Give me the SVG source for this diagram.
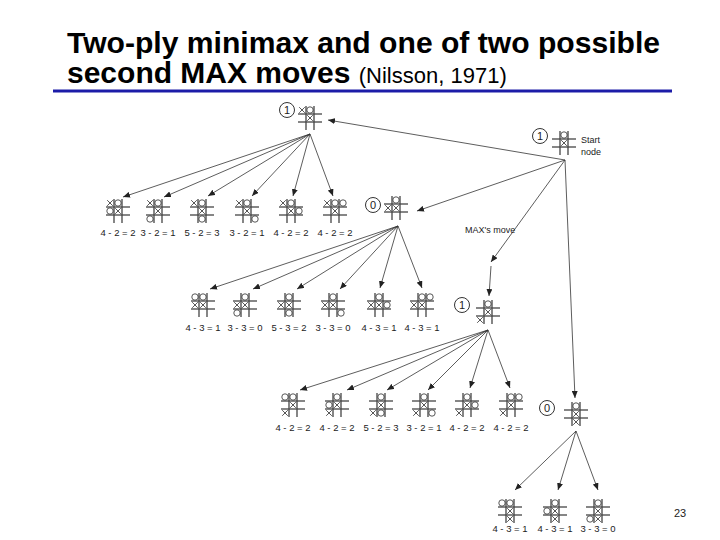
<svg xmlns="http://www.w3.org/2000/svg" width="720" height="540" viewBox="0 0 720 540">
<style>
.t1{font-family:"Liberation Sans",Arial,sans-serif;font-weight:bold;font-size:30px;fill:#000}
.t2{font-family:"Liberation Sans",Arial,sans-serif;font-weight:normal;font-size:22px;fill:#000}
.lbl{font-family:"Liberation Sans",Arial,sans-serif;font-size:9.5px;fill:#222;text-anchor:middle}
.sm{font-family:"Liberation Sans",Arial,sans-serif;font-size:9px;fill:#222}
.val{font-family:"Liberation Sans",Arial,sans-serif;font-size:11px;fill:#222;text-anchor:middle}
.ring{fill:none;stroke:#333;stroke-width:1}
.grid line{stroke:#444;stroke-width:1.3}
.mark{stroke:#444;stroke-width:0.9;fill:none}
.conn line{stroke:#333;stroke-width:0.8;marker-end:url(#ah)}
</style>
<defs>
<marker id="ah" markerUnits="userSpaceOnUse" markerWidth="8" markerHeight="6" refX="7" refY="3" orient="auto">
<path d="M0,0 L7,3 L0,6 z" fill="#222"/>
</marker>
<g id="grid" class="grid">
<line x1="-4" y1="-12" x2="-4" y2="12"/>
<line x1="4" y1="-12" x2="4" y2="12"/>
<line x1="-12" y1="-4" x2="12" y2="-4"/>
<line x1="-12" y1="4" x2="12" y2="4"/>
</g>
<path id="X" class="mark" d="M-2.8,-2.8 L2.8,2.8 M2.8,-2.8 L-2.8,2.8"/>
<circle id="O" class="mark" r="3.2"/>
</defs>

<g id="title">
<text class="t1" x="67" y="53" textLength="593" lengthAdjust="spacingAndGlyphs">Two-ply minimax and one of two possible</text>
<text class="t1" x="67" y="83">second MAX moves <tspan class="t2">(Nilsson, 1971)</tspan></text>
<line x1="53" y1="91" x2="672" y2="91" stroke="#1c1ca8" stroke-width="3"/>
</g>

<g id="connectors" class="conn">
<line x1="565" y1="160" x2="328" y2="120"/>
<line x1="565" y1="160" x2="417" y2="211"/>
<line x1="565" y1="160" x2="491" y2="262"/>
<line x1="491" y1="266" x2="489" y2="296"/>
<line x1="565" y1="160" x2="575" y2="398"/>
<line x1="310" y1="134" x2="123" y2="197"/>
<line x1="310" y1="134" x2="164" y2="197"/>
<line x1="310" y1="134" x2="208" y2="196"/>
<line x1="310" y1="134" x2="252" y2="196"/>
<line x1="310" y1="134" x2="293" y2="196"/>
<line x1="310" y1="134" x2="333" y2="196"/>
<line x1="398" y1="226" x2="210" y2="289"/>
<line x1="398" y1="226" x2="253" y2="289"/>
<line x1="398" y1="226" x2="297" y2="289"/>
<line x1="398" y1="226" x2="340" y2="289"/>
<line x1="398" y1="226" x2="380" y2="288"/>
<line x1="398" y1="226" x2="422" y2="288"/>
<line x1="488" y1="330" x2="300" y2="390"/>
<line x1="488" y1="330" x2="347" y2="390"/>
<line x1="488" y1="330" x2="387" y2="390"/>
<line x1="488" y1="330" x2="428" y2="390"/>
<line x1="488" y1="330" x2="470" y2="388"/>
<line x1="488" y1="330" x2="510" y2="388"/>
<line x1="576" y1="431" x2="515" y2="490"/>
<line x1="576" y1="431" x2="558" y2="490"/>
<line x1="576" y1="431" x2="598" y2="490"/>
</g>

<g id="start">
<circle class="ring" cx="540" cy="136" r="7.5"/><text class="val" x="540" y="140">1</text>
<g transform="translate(564,143)"><use href="#grid"/><use href="#O" y="-8"/><use href="#X"/></g>
<text class="sm" x="581" y="143">Start</text>
<text class="sm" x="581" y="155">node</text>
</g>
<text id="maxmove" class="sm" x="465" y="233">MAX's move</text>

<g id="m1">
<circle class="ring" cx="287" cy="110" r="7.5"/><text class="val" x="287" y="114">1</text>
<g transform="translate(310,118)"><use href="#grid"/><use href="#X" x="-8" y="-8"/><use href="#O" y="-8"/><use href="#X"/></g>
</g>
<g id="m2">
<circle class="ring" cx="373" cy="205" r="7.5"/><text class="val" x="373" y="209">0</text>
<g transform="translate(396,208)"><use href="#grid"/><use href="#O" y="-8"/><use href="#X" x="-8"/><use href="#X"/></g>
</g>
<g id="m3">
<circle class="ring" cx="462" cy="305" r="7.5"/><text class="val" x="462" y="309">1</text>
<g transform="translate(488,312)"><use href="#grid"/><use href="#O" y="-8"/><use href="#X"/><use href="#X" x="-8" y="8"/></g>
</g>
<g id="m4">
<circle class="ring" cx="547" cy="408" r="7.5"/><text class="val" x="547" y="412">0</text>
<g transform="translate(576,414)"><use href="#grid"/><use href="#O" y="-8"/><use href="#X"/><use href="#X" y="8"/></g>
</g>

<!-- row 1 -->
<g id="r1a" transform="translate(118,211)"><use href="#grid"/><use href="#X" x="-8" y="-8"/><use href="#O" y="-8"/><use href="#X"/><use href="#O" x="-8"/><text class="lbl" y="25">4 - 2 = 2</text></g>
<g id="r1b" transform="translate(158,211)"><use href="#grid"/><use href="#X" x="-8" y="-8"/><use href="#O" y="-8"/><use href="#X"/><use href="#O" x="-8" y="8"/><text class="lbl" y="25">3 - 2 = 1</text></g>
<g id="r1c" transform="translate(202,211)"><use href="#grid"/><use href="#X" x="-8" y="-8"/><use href="#O" y="-8"/><use href="#X"/><use href="#O" y="8"/><text class="lbl" y="25">5 - 2 = 3</text></g>
<g id="r1d" transform="translate(247,211)"><use href="#grid"/><use href="#X" x="-8" y="-8"/><use href="#O" y="-8"/><use href="#X"/><use href="#O" x="8" y="8"/><text class="lbl" y="25">3 - 2 = 1</text></g>
<g id="r1e" transform="translate(291,211)"><use href="#grid"/><use href="#X" x="-8" y="-8"/><use href="#O" y="-8"/><use href="#X"/><use href="#O" x="8"/><text class="lbl" y="25">4 - 2 = 2</text></g>
<g id="r1f" transform="translate(335,211)"><use href="#grid"/><use href="#X" x="-8" y="-8"/><use href="#O" y="-8"/><use href="#X"/><use href="#O" x="8" y="-8"/><text class="lbl" y="25">4 - 2 = 2</text></g>

<!-- row 2 -->
<g id="r2a" transform="translate(203,305)"><use href="#grid"/><use href="#O" y="-8"/><use href="#X" x="-8"/><use href="#X"/><use href="#O" x="-8" y="-8"/><text class="lbl" y="26">4 - 3 = 1</text></g>
<g id="r2b" transform="translate(245,305)"><use href="#grid"/><use href="#O" y="-8"/><use href="#X" x="-8"/><use href="#X"/><use href="#O" x="-8" y="8"/><text class="lbl" y="26">3 - 3 = 0</text></g>
<g id="r2c" transform="translate(289,305)"><use href="#grid"/><use href="#O" y="-8"/><use href="#X" x="-8"/><use href="#X"/><use href="#O" y="8"/><text class="lbl" y="26">5 - 3 = 2</text></g>
<g id="r2d" transform="translate(333,305)"><use href="#grid"/><use href="#O" y="-8"/><use href="#X" x="-8"/><use href="#X"/><use href="#O" x="8" y="8"/><text class="lbl" y="26">3 - 3 = 0</text></g>
<g id="r2e" transform="translate(379,305)"><use href="#grid"/><use href="#O" y="-8"/><use href="#X" x="-8"/><use href="#X"/><use href="#O" x="8"/><text class="lbl" y="26">4 - 3 = 1</text></g>
<g id="r2f" transform="translate(422,305)"><use href="#grid"/><use href="#O" y="-8"/><use href="#X" x="-8"/><use href="#X"/><use href="#O" x="8" y="-8"/><text class="lbl" y="26">4 - 3 = 1</text></g>

<!-- row 3 -->
<g id="r3a" transform="translate(293,405)"><use href="#grid"/><use href="#O" y="-8"/><use href="#X"/><use href="#X" x="-8" y="8"/><use href="#O" x="-8" y="-8"/><text class="lbl" y="26">4 - 2 = 2</text></g>
<g id="r3b" transform="translate(337,405)"><use href="#grid"/><use href="#O" y="-8"/><use href="#X"/><use href="#X" x="-8" y="8"/><use href="#O" x="-8"/><text class="lbl" y="26">4 - 2 = 2</text></g>
<g id="r3c" transform="translate(381,405)"><use href="#grid"/><use href="#O" y="-8"/><use href="#X"/><use href="#X" x="-8" y="8"/><use href="#O" y="8"/><text class="lbl" y="26">5 - 2 = 3</text></g>
<g id="r3d" transform="translate(424,405)"><use href="#grid"/><use href="#O" y="-8"/><use href="#X"/><use href="#X" x="-8" y="8"/><use href="#O" x="8" y="8"/><text class="lbl" y="26">3 - 2 = 1</text></g>
<g id="r3e" transform="translate(467,405)"><use href="#grid"/><use href="#O" y="-8"/><use href="#X"/><use href="#X" x="-8" y="8"/><use href="#O" x="8"/><text class="lbl" y="26">4 - 2 = 2</text></g>
<g id="r3f" transform="translate(511,405)"><use href="#grid"/><use href="#O" y="-8"/><use href="#X"/><use href="#X" x="-8" y="8"/><use href="#O" x="8" y="-8"/><text class="lbl" y="26">4 - 2 = 2</text></g>

<!-- row 4 -->
<g id="r4a" transform="translate(510,511)"><use href="#grid"/><use href="#O" y="-8"/><use href="#X"/><use href="#X" y="8"/><use href="#O" x="-8" y="-8"/><text class="lbl" y="21">4 - 3 = 1</text></g>
<g id="r4b" transform="translate(555,511)"><use href="#grid"/><use href="#O" y="-8"/><use href="#X"/><use href="#X" y="8"/><use href="#O" x="-8"/><text class="lbl" y="21">4 - 3 = 1</text></g>
<g id="r4c" transform="translate(598,511)"><use href="#grid"/><use href="#O" y="-8"/><use href="#X"/><use href="#X" y="8"/><use href="#O" x="-8" y="8"/><text class="lbl" y="21">3 - 3 = 0</text></g>

<text id="page" x="680" y="517" font-family="Liberation Sans,Arial,sans-serif" font-size="11" fill="#222" text-anchor="middle">23</text>
</svg>
